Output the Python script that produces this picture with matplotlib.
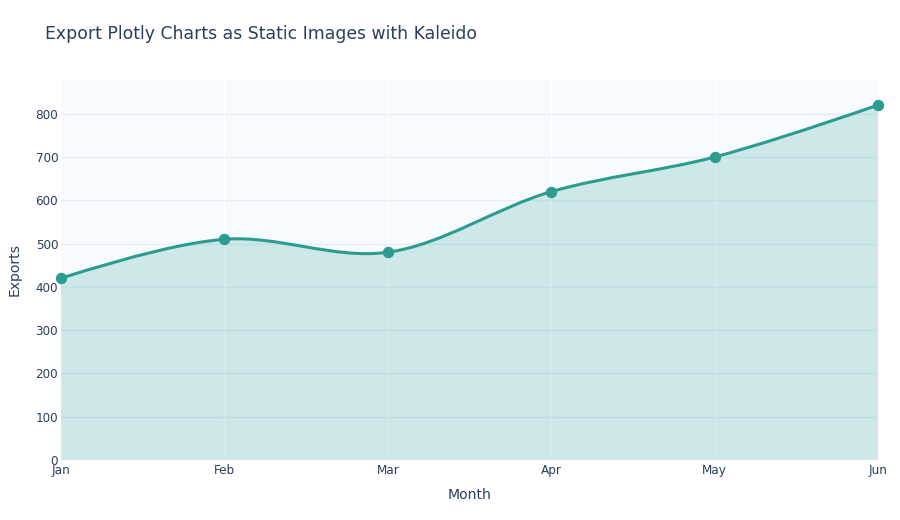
import numpy as np
import matplotlib
matplotlib.use("Agg")
import matplotlib.pyplot as plt
from matplotlib.path import Path
from matplotlib.patches import PathPatch

months = ["Jan", "Feb", "Mar", "Apr", "May", "Jun"]
exports = [420, 510, 480, 620, 700, 820]

line_color = "#2a9d8f"
text_color = "#2a3f5f"

plt.rcParams['font.family'] = ['DejaVu Sans']


def make_tangent(p0, p1, p2, smoothness=1.0):
    # plotly style catmull-rom tangent
    d1 = p0 - p1
    d2 = p2 - p1
    d1a = np.hypot(*d1) ** 0.5
    d2a = np.hypot(*d2) ** 0.5
    num = (d2a * d2a * d1 - d1a * d1a * d2) * smoothness
    den1 = 3 * d2a * (d1a + d2a)
    den2 = 3 * d1a * (d1a + d2a)
    return p1 + num / den1, p1 - num / den2


def spline_path(pts):
    tangents = [make_tangent(pts[i - 1], pts[i], pts[i + 1]) for i in range(1, len(pts) - 1)]
    verts = [pts[0], tangents[0][0], pts[1]]
    codes = [Path.MOVETO, Path.CURVE3, Path.CURVE3]
    for i in range(2, len(pts) - 1):
        verts += [tangents[i - 2][1], tangents[i - 1][0], pts[i]]
        codes += [Path.CURVE4] * 3
    verts += [tangents[-1][1], pts[-1]]
    codes += [Path.CURVE3] * 2
    return verts, codes


fig = plt.figure(figsize=(9, 5.2), dpi=100)
ax = fig.add_axes([61 / 900, 60 / 520, 817 / 900, 380 / 520])
ax.set_facecolor("#f7faff")

x = np.arange(len(months))
ax.set_xlim(0, len(months) - 1)
ax.set_ylim(0, 878)

# smooth line built in pixel space, then mapped back to data coords
pix = ax.transData.transform(np.column_stack([x, exports]))
verts, codes = spline_path([np.array(p) for p in pix])
inv = ax.transData.inverted()
dverts = inv.transform(np.array(verts))

line_path = Path(dverts, codes)
fill_verts = list(dverts) + [(x[-1], 0), (x[0], 0), (x[0], exports[0])]
fill_codes = list(codes) + [Path.LINETO, Path.LINETO, Path.CLOSEPOLY]
ax.add_patch(PathPatch(Path(fill_verts, fill_codes), facecolor=line_color, alpha=0.2,
                       edgecolor="none", zorder=2))
ax.add_patch(PathPatch(line_path, facecolor="none", edgecolor=line_color, lw=2.2,
                       zorder=3, clip_on=False))
ax.plot(x, exports, "o", color=line_color, ms=7.2, zorder=4, clip_on=False)

for yv in range(100, 900, 100):
    ax.axhline(yv, color="#e6edf7", lw=1, zorder=1)
for xv in x[1:-1]:
    ax.axvline(xv, color="white", lw=1, zorder=1)

ax.set_xticks(x)
ax.set_xticklabels(months)
ax.set_yticks(range(0, 900, 100))
ax.tick_params(length=0, labelsize=8.64, colors=text_color)
ax.tick_params(axis="x", pad=3)
ax.tick_params(axis="y", pad=2)
for s in ax.spines.values():
    s.set_visible(False)

ax.set_xlabel("Month", fontsize=10.08, color=text_color, labelpad=8)
ax.set_ylabel("Exports", fontsize=10.08, color=text_color, labelpad=10)
fig.text(45 / 900, 1 - 34 / 520, "Export Plotly Charts as Static Images with Kaleido",
         fontsize=12.45, color=text_color, va="center", ha="left")

fig.savefig("out.png", dpi=100)
